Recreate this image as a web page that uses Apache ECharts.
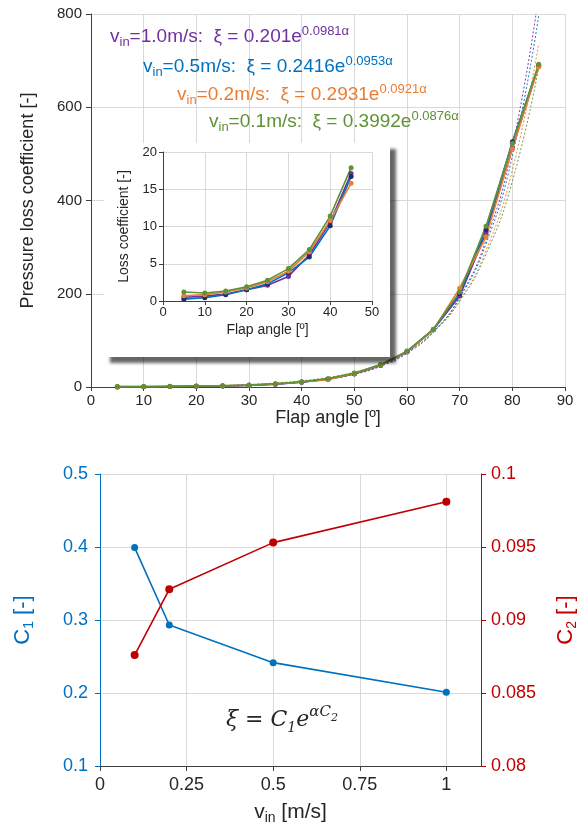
<!DOCTYPE html>
<html>
<head>
<meta charset="utf-8">
<script src="https://cdn.jsdelivr.net/npm/echarts@6/dist/echarts.min.js"></script>
<style>html,body{margin:0;padding:0;background:#fff}#c{width:587px;height:831px}</style>
</head>
<body>
<div id="c"></div>
<script>
// ---- data ----
const angles = [5,10,15,20,25,30,35,40,45,50,55,60,65,70,75,80,85];
const xiV10 = [0.5,0.65,0.95,1.5,2.1,3.3,6.2,10.6,17.1,28,46,75,123,195,330,512,688];
const xiV05 = [0.25,0.45,0.85,1.5,2.3,3.8,5.9,10.1,16.7,28.5,47,76,123,200,337,526,690];
const xiV02 = [0.7,0.85,1.2,1.75,2.6,4.0,6.6,10.8,15.8,29,47,76,123,212,322,511,687];
const xiV01 = [1.2,1.07,1.35,1.9,2.8,4.35,6.9,11.4,17.9,30,48,77,124,204,345,523,692];
// dotted trend curves
const trendV10 = [0.33,0.54,0.88,1.43,2.34,3.81,6.23,10.2,16.6,27.1,44.3,72.3,118,193,315,515,840];
const trendV05 = [0.39,0.63,1.01,1.63,2.62,4.21,6.79,10.9,17.6,28.3,45.7,73.5,118,191,307,495,796];
const trendV02 = [0.47,0.74,1.17,1.85,2.93,4.64,7.36,11.7,18.5,29.3,46.5,73.6,117,185,293,465,736];
const trendV01 = [0.62,0.96,1.49,2.30,3.57,5.53,8.57,13.3,20.6,31.9,49.4,76.5,119,184,285,441,684];
const insetCount = 9; // inset shows 5..45 deg
const vin = [0.1,0.2,0.5,1.0];
const c1 = [0.3992,0.2931,0.2416,0.201];
const c2 = [0.0876,0.0921,0.0953,0.0981];
const labels = [
  {v:'0.1', c:'0.3992', e:'0.0876'},
  {v:'0.2', c:'0.2931', e:'0.0921'},
  {v:'0.5', c:'0.2416', e:'0.0953'},
  {v:'1.0', c:'0.201', e:'0.0981'}
];

const PURPLE='#7030A0', BLUE='#0070C0', ORANGE='#ED7D31', GREEN='#5E9234', NAVY='#1F2D6B', RED='#C00000';
const FF = 'Liberation Sans, Arial, sans-serif';
const AX = '#404040', GRID='#d9d9d9', TXT='#262626';

function pts(xs, ys, n){ const out=[]; const m=n||xs.length; for(let i=0;i<m;i++) out.push([xs[i],ys[i]]); return out; }

function dataSeries(name, ys, color, mcolor, xi, yi, n, z, size){
  return {name, type:'line', xAxisIndex:xi, yAxisIndex:yi, data:pts(angles, ys, n), z,
    symbol:'circle', symbolSize:size, lineStyle:{color, width:1.6},
    itemStyle:{color:mcolor||color}, animation:false, silent:true};
}
function trendSeries(ys, color){
  return {type:'line', xAxisIndex:0, yAxisIndex:0, data:pts(angles, ys), z:1, smooth:true,
    symbol:'none', lineStyle:{color, width:1, type:[2,2], opacity:0.9}, animation:false, silent:true};
}

function annot(i, color, x, y){
  const L = labels[i];
  const fs=19, ss=13;
  return {type:'text', left:x, top:y, z:20, silent:true,
    style:{text:'{a|v}{s|in}{a|='+L.v+'m/s:  ξ = '+L.c+'e}{p|'+L.e+'α}', fill:color,
      rich:{a:{fontSize:fs, fontFamily:FF, fill:color, lineHeight:26, verticalAlign:'middle'},
            s:{fontSize:ss, fontFamily:FF, fill:color, lineHeight:26, verticalAlign:'bottom', padding:[0,0,1,0]},
            p:{fontSize:ss, fontFamily:FF, fill:color, lineHeight:26, verticalAlign:'top', padding:[1,0,0,0]}}}};
}

const chart = echarts.init(document.getElementById('c'), null, {renderer:'canvas'});
chart.setOption({
  backgroundColor:'#fff',
  animation:false,
  grid:[
    {left:91, right:22, top:14, bottom:444},
    {left:163, right:215, top:152, bottom:530},
    {left:100, right:103, top:474, bottom:65}
  ],
  xAxis:[
    {gridIndex:0, type:'value', min:0, max:90, interval:10, z:0,
     name:'Flap angle [º]', nameLocation:'middle', nameGap:18,
     nameTextStyle:{fontSize:18, fontFamily:FF, color:TXT},
     axisLine:{lineStyle:{color:AX}}, axisTick:{show:true, length:4, lineStyle:{color:AX}},
     axisLabel:{fontSize:15, fontFamily:FF, color:TXT, margin:6},
     splitLine:{show:true, lineStyle:{color:GRID}}},
    {gridIndex:1, type:'value', min:0, max:50, interval:10, z:4,
     name:'Flap angle [º]', nameLocation:'middle', nameGap:22,
     nameTextStyle:{fontSize:14, fontFamily:FF, color:TXT},
     axisLine:{lineStyle:{color:AX}}, axisTick:{show:true, length:4, lineStyle:{color:AX}},
     axisLabel:{fontSize:13, fontFamily:FF, color:TXT, margin:5},
     splitLine:{show:true, lineStyle:{color:GRID}}},
    {gridIndex:2, type:'value', min:0, max:1.1, interval:0.25, z:0,
     name:'{a|v}{s|in}{a| [m/s]}', nameLocation:'middle', nameGap:33,
     nameTextStyle:{fontSize:21, fontFamily:FF, color:TXT,
       rich:{a:{fontSize:21, fontFamily:FF, color:TXT, lineHeight:26, verticalAlign:'middle'},
             s:{fontSize:14, fontFamily:FF, color:TXT, lineHeight:26, verticalAlign:'bottom'}}},
     axisLine:{lineStyle:{color:AX}}, axisTick:{show:true, length:5, lineStyle:{color:AX}},
     axisLabel:{fontSize:18, fontFamily:FF, color:TXT, margin:10, showMaxLabel:false},
     splitLine:{show:true, lineStyle:{color:GRID}}}
  ],
  yAxis:[
    {gridIndex:0, type:'value', min:0, max:800, interval:200, z:0,
     name:'Pressure loss coefficient [-]', nameLocation:'middle', nameGap:54, nameRotate:90,
     nameTextStyle:{fontSize:18, fontFamily:FF, color:TXT},
     axisLine:{show:true, lineStyle:{color:AX}}, axisTick:{show:true, length:5, lineStyle:{color:AX}},
     axisLabel:{fontSize:15, fontFamily:FF, color:TXT, margin:9},
     splitLine:{show:true, lineStyle:{color:GRID}}},
    {gridIndex:1, type:'value', min:0, max:20, interval:5, z:4,
     name:'Loss coefficient [-]', nameLocation:'middle', nameGap:32, nameRotate:90,
     nameTextStyle:{fontSize:14, fontFamily:FF, color:TXT},
     axisLine:{show:true, lineStyle:{color:AX}}, axisTick:{show:true, length:4, lineStyle:{color:AX}},
     axisLabel:{fontSize:13, fontFamily:FF, color:TXT, margin:6},
     splitLine:{show:true, lineStyle:{color:GRID}}},
    {gridIndex:2, type:'value', min:0.1, max:0.5, interval:0.1, position:'left', z:0,
     name:'{a|C}{s|1}{a| [-]}', nameLocation:'middle', nameGap:64, nameRotate:90,
     nameTextStyle:{color:BLUE,
       rich:{a:{fontSize:22, fontFamily:FF, color:BLUE, lineHeight:26, verticalAlign:'middle'},
             s:{fontSize:14, fontFamily:FF, color:BLUE, lineHeight:26, verticalAlign:'bottom'}}},
     axisLine:{show:true, lineStyle:{color:BLUE}}, axisTick:{show:true, length:5, lineStyle:{color:BLUE}},
     axisLabel:{fontSize:18, fontFamily:FF, color:BLUE, margin:12},
     splitLine:{show:true, lineStyle:{color:GRID}}},
    {gridIndex:2, type:'value', min:0.08, max:0.1, interval:0.005, position:'right', z:0,
     name:'{a|C}{s|2}{a| [-]}', nameLocation:'middle', nameGap:72, nameRotate:90,
     nameTextStyle:{color:RED,
       rich:{a:{fontSize:22, fontFamily:FF, color:RED, lineHeight:26, verticalAlign:'middle'},
             s:{fontSize:14, fontFamily:FF, color:RED, lineHeight:26, verticalAlign:'bottom'}}},
     axisLine:{show:true, lineStyle:{color:RED}}, axisTick:{show:true, length:5, lineStyle:{color:RED}},
     axisLabel:{fontSize:18, fontFamily:FF, color:RED, margin:10},
     splitLine:{show:false}}
  ],
  graphic:[
    {type:'rect', z:3, silent:true, shape:{x:104, y:143, width:286, height:214},
     style:{fill:'#fff', shadowBlur:3, shadowOffsetX:6, shadowOffsetY:6, shadowColor:'rgba(0,0,0,0.6)'}},
    annot(3, PURPLE, 110, 24),
    annot(2, BLUE, 143, 54),
    annot(1, ORANGE, 177, 82),
    annot(0, GREEN, 209, 109),
    {type:'text', left:226, top:705, z:20, silent:true,
     style:{text:'{i|ξ = C}{s|1}{i|e}{p|αC}{q|2}', fill:TXT,
       rich:{i:{fontSize:22, fontFamily:'DejaVu Serif, serif', fontStyle:'italic', fill:TXT, lineHeight:30, verticalAlign:'middle'},
             s:{fontSize:14, fontFamily:'DejaVu Serif, serif', fontStyle:'italic', fill:TXT, lineHeight:30, verticalAlign:'bottom'},
             p:{fontSize:15, fontFamily:'DejaVu Serif, serif', fontStyle:'italic', fill:TXT, lineHeight:30, verticalAlign:'top'},
             q:{fontSize:11, fontFamily:'DejaVu Serif, serif', fontStyle:'italic', fill:TXT, lineHeight:22, verticalAlign:'top', padding:[8,0,0,0]}}}}
  ],
  series:[
    trendSeries(trendV10, PURPLE),
    trendSeries(trendV05, BLUE),
    trendSeries(trendV02, ORANGE),
    trendSeries(trendV01, GREEN),
    dataSeries('1.0', xiV10, PURPLE, PURPLE, 0, 0, null, 2, 5),
    dataSeries('0.5', xiV05, BLUE, NAVY, 0, 0, null, 2, 5),
    dataSeries('0.2', xiV02, ORANGE, ORANGE, 0, 0, null, 2, 5),
    dataSeries('0.1', xiV01, GREEN, GREEN, 0, 0, null, 2, 5),
    dataSeries('i1.0', xiV10, PURPLE, PURPLE, 1, 1, insetCount, 5, 5),
    dataSeries('i0.5', xiV05, BLUE, NAVY, 1, 1, insetCount, 5, 5),
    dataSeries('i0.2', xiV02, ORANGE, ORANGE, 1, 1, insetCount, 5, 5),
    dataSeries('i0.1', xiV01, GREEN, GREEN, 1, 1, insetCount, 5, 5),
    {name:'C1', type:'line', xAxisIndex:2, yAxisIndex:2, data:pts(vin, c1), symbol:'circle', symbolSize:7,
     lineStyle:{color:BLUE, width:1.6}, itemStyle:{color:BLUE}, z:2, silent:true},
    {name:'C2', type:'line', xAxisIndex:2, yAxisIndex:3, data:pts(vin, c2), symbol:'circle', symbolSize:8,
     lineStyle:{color:RED, width:1.6}, itemStyle:{color:RED}, z:2, silent:true}
  ]
});
</script>
</body>
</html>
